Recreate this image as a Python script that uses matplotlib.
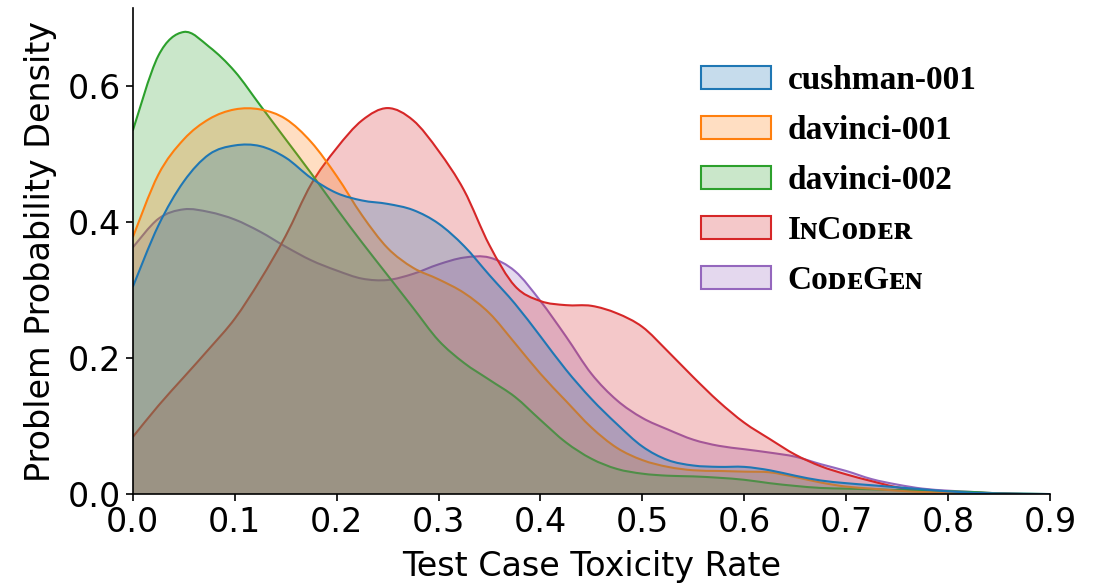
import matplotlib
matplotlib.use("Agg")
import numpy as np
import matplotlib.pyplot as plt
from matplotlib.patches import Patch, PathPatch
from matplotlib.path import Path
from matplotlib.colors import to_rgba

# toxicity rate grid (values at 0.025 steps)
x = [i * 0.025 for i in range(37)]

cushman_001 = [0.305, 0.395, 0.460, 0.500, 0.513, 0.512, 0.495, 0.465, 0.443, 0.432,
               0.427, 0.418, 0.398, 0.365, 0.322, 0.280, 0.232, 0.183, 0.140, 0.103,
               0.070, 0.050, 0.042, 0.040, 0.040, 0.035, 0.027, 0.020, 0.016, 0.013,
               0.010, 0.007, 0.004, 0.002, 0.001, 0.0005, 0.0]
davinci_001 = [0.378, 0.470, 0.522, 0.552, 0.566, 0.566, 0.552, 0.518, 0.468, 0.410,
               0.362, 0.333, 0.316, 0.296, 0.266, 0.222, 0.177, 0.137, 0.098, 0.068,
               0.050, 0.040, 0.035, 0.034, 0.033, 0.032, 0.025, 0.017, 0.011, 0.008,
               0.005, 0.003, 0.002, 0.001, 0.0005, 0.0, 0.0]
davinci_002 = [0.535, 0.645, 0.680, 0.658, 0.622, 0.572, 0.522, 0.472, 0.420, 0.370,
               0.322, 0.274, 0.226, 0.193, 0.168, 0.143, 0.109, 0.076, 0.052, 0.037,
               0.030, 0.027, 0.026, 0.024, 0.021, 0.016, 0.012, 0.009, 0.008, 0.007,
               0.006, 0.005, 0.004, 0.003, 0.001, 0.0005, 0.0]
incoder = [0.084, 0.130, 0.172, 0.214, 0.258, 0.315, 0.380, 0.456, 0.509, 0.550,
           0.568, 0.550, 0.505, 0.447, 0.366, 0.306, 0.284, 0.278, 0.277, 0.266,
           0.246, 0.210, 0.172, 0.136, 0.105, 0.081, 0.058, 0.041, 0.029, 0.019,
           0.010, 0.005, 0.003, 0.002, 0.001, 0.0, 0.0]
codegen = [0.363, 0.405, 0.419, 0.415, 0.404, 0.386, 0.364, 0.344, 0.329, 0.317,
           0.315, 0.324, 0.338, 0.348, 0.348, 0.328, 0.284, 0.232, 0.177, 0.138,
           0.112, 0.095, 0.080, 0.071, 0.066, 0.061, 0.055, 0.044, 0.034, 0.022,
           0.014, 0.008, 0.005, 0.003, 0.001, 0.0, 0.0]

labels = ["cushman-001", "davinci-001", "davinci-002",
          "I\u0274C\u1d0f\u1d05\u1d07\u0280", "C\u1d0f\u1d05\u1d07G\u1d07\u0274"]
series = [cushman_001, davinci_001, davinci_002, incoder, codegen]
colors = ["#1f77b4", "#ff7f0e", "#2ca02c", "#d62728", "#9467bd"]


def smooth_path(xs, ys, close=False):
    # Catmull-Rom style bezier through the read points
    xs = np.asarray(xs, float)
    ys = np.asarray(ys, float)
    n = len(xs)
    verts = [(xs[0], ys[0])]
    codes = [Path.MOVETO]
    for i in range(n - 1):
        i0, i3 = max(i - 1, 0), min(i + 2, n - 1)
        c1 = (xs[i] + (xs[i + 1] - xs[i0]) / 6, ys[i] + (ys[i + 1] - ys[i0]) / 6)
        c2 = (xs[i + 1] - (xs[i3] - xs[i]) / 6, ys[i + 1] - (ys[i3] - ys[i]) / 6)
        verts += [c1, c2, (xs[i + 1], ys[i + 1])]
        codes += [Path.CURVE4] * 3
    if close:
        verts += [(xs[-1], 0), (xs[0], 0), (xs[0], ys[0])]
        codes += [Path.LINETO, Path.LINETO, Path.CLOSEPOLY]
    return Path(verts, codes)


fig = plt.figure(figsize=(11.07, 5.84), dpi=100)
ax = fig.add_axes([0.120, 0.154, 0.8285, 0.832])

# first series ends up on top, as seaborn layers hues
for y, c in reversed(list(zip(series, colors))):
    ax.add_patch(PathPatch(smooth_path(x, y, close=True), facecolor=c, alpha=0.25,
                           linewidth=0))
    ax.add_patch(PathPatch(smooth_path(x, y), facecolor="none", edgecolor=c,
                           linewidth=1.5))

ax.set_xlim(0, 0.9)
ax.set_ylim(0, 0.715)
ax.set_xticks([0.0, 0.1, 0.2, 0.3, 0.4, 0.5, 0.6, 0.7, 0.8, 0.9])
ax.set_yticks([0.0, 0.2, 0.4, 0.6])
ax.tick_params(labelsize=24, width=1.2, length=5)
ax.set_xlabel("Test Case Toxicity Rate", fontsize=24, labelpad=8)
ax.set_ylabel("Problem Probability Density", fontsize=24, labelpad=8)
for s in ["top", "right"]:
    ax.spines[s].set_visible(False)
for s in ["left", "bottom"]:
    ax.spines[s].set_linewidth(1.2)

handles = [Patch(facecolor=to_rgba(c, 0.25), edgecolor=c, linewidth=1.5) for c in colors]
ax.legend(handles, labels, loc="upper left", bbox_to_anchor=(0.606, 0.94),
          bbox_transform=fig.transFigure, frameon=False,
          prop={"family": ["Liberation Serif", "DejaVu Serif"], "weight": "bold", "size": 24},
          handlelength=2.1, handleheight=0.72, handletextpad=0.5, labelspacing=0.57)

fig.savefig("out.png", dpi=100)
